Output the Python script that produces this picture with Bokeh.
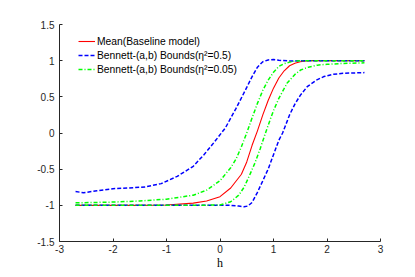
from bokeh.plotting import figure
from bokeh.models import Legend, LegendItem, FixedTicker, Range1d
from bokeh.embed import file_html
from bokeh.resources import INLINE

# ---- data ----
mean_x = [-2.7, -2.0, -1.5, -1.0, -0.5, -0.25, 0.0, 0.2, 0.4, 0.5, 0.6, 0.7, 0.8, 0.9,
          1.0, 1.1, 1.2, 1.3, 1.4, 1.5, 1.6, 1.7, 2.0, 2.7]
mean_y = [-1.0, -1.0, -1.0, -0.995, -0.97, -0.94, -0.88, -0.76, -0.57, -0.40, -0.17, 0.03,
          0.25, 0.45, 0.62, 0.76, 0.86, 0.93, 0.965, 0.985, 0.995, 1.0, 1.0, 1.0]

b05_up_x = [-2.7, -2.55, -2.3, -2.0, -1.7, -1.4, -1.1, -0.8, -0.5, -0.3, -0.1, 0.1, 0.3,
            0.5, 0.6, 0.7, 0.8, 0.9, 1.0, 1.1, 1.3, 1.6, 2.0, 2.7]
b05_up_y = [-0.81, -0.825, -0.80, -0.77, -0.76, -0.745, -0.70, -0.60, -0.46, -0.30, -0.12,
            0.07, 0.34, 0.63, 0.78, 0.91, 0.985, 1.01, 1.015, 1.005, 0.995, 1.0, 1.0, 1.0]

b05_lo_x = [-2.7, -1.5, -0.5, 0.0, 0.2, 0.35, 0.45, 0.52, 0.6, 0.7, 0.9, 1.1, 1.17, 1.3,
            1.4, 1.5, 1.63, 1.8, 1.94, 2.1, 2.3, 2.7]
b05_lo_y = [-1.0, -1.0, -1.0, -1.0, -1.0, -1.01, -1.02, -1.01, -0.96, -0.82, -0.50, -0.10,
            0.0, 0.25, 0.40, 0.52, 0.64, 0.73, 0.78, 0.81, 0.825, 0.835]

b005_up_x = [-2.7, -2.0, -1.5, -1.0, -0.5, -0.25, 0.0, 0.2, 0.3, 0.4, 0.5, 0.6, 0.7, 0.8,
             0.9, 1.0, 1.1, 1.2, 1.3, 1.4, 1.5, 2.0, 2.7]
b005_up_y = [-0.965, -0.955, -0.94, -0.915, -0.86, -0.79, -0.66, -0.48, -0.36, -0.19, 0.0,
             0.21, 0.41, 0.59, 0.73, 0.84, 0.92, 0.96, 0.98, 0.995, 1.0, 1.0, 1.0]

b005_lo_x = [-2.7, -1.5, -0.5, 0.0, 0.2, 0.35, 0.45, 0.55, 0.65, 0.75, 0.85, 0.95, 1.006,
             1.1, 1.255, 1.4, 1.505, 1.65, 1.817, 2.0, 2.3, 2.7]
b005_lo_y = [-1.0, -1.0, -1.0, -0.995, -0.95, -0.86, -0.75, -0.59, -0.42, -0.22, 0.0, 0.21,
             0.32, 0.48, 0.69, 0.81, 0.87, 0.91, 0.938, 0.95, 0.962, 0.97]

x_ticks = [-3, -2, -1, 0, 1, 2, 3]
y_ticks = [-1.5, -1, -0.5, 0, 0.5, 1, 1.5]
labels = ["Mean(Baseline model)",
          "Bennett-(a,b) Bounds(\u03b7\u00b2=0.5)",
          "Bennett-(a,b) Bounds(\u03b7\u00b2=0.05)"]

FONT = "Liberation Sans"
AX = "#262626"

p = figure(width=407, height=272, output_backend="svg", toolbar_location=None,
           x_range=Range1d(-3, 3), y_range=Range1d(-1.5, 1.5),
           min_border_left=59, min_border_right=27, min_border_top=24,
           min_border_bottom=29)
p.outline_line_color = None
p.xgrid.visible = False
p.ygrid.visible = False

r_mean = p.line(mean_x, mean_y, line_color="#ff0000", line_width=1.1)
r_b1 = p.line(b05_up_x, b05_up_y, line_color="#0000ff", line_width=1.5, line_dash="4 2")
p.line(b05_lo_x, b05_lo_y, line_color="#0000ff", line_width=1.5, line_dash="4 2")
r_b2 = p.line(b005_up_x, b005_up_y, line_color="#00ff00", line_width=1.5, line_dash="4 2 1 2")
p.line(b005_lo_x, b005_lo_y, line_color="#00ff00", line_width=1.5, line_dash="4 2 1 2")

for ax in (p.xaxis[0], p.yaxis[0]):
    ax.axis_line_color = AX
    ax.major_tick_line_color = AX
    ax.major_tick_in = 3
    ax.major_tick_out = 0
    ax.minor_tick_line_color = None
    ax.major_label_text_font = FONT
    ax.major_label_text_font_size = "10px"
    ax.major_label_text_color = AX

p.xaxis[0].ticker = FixedTicker(ticks=x_ticks)
p.yaxis[0].ticker = FixedTicker(ticks=y_ticks)
p.xaxis[0].major_label_overrides = {t: str(t) for t in x_ticks}
p.yaxis[0].major_label_overrides = {t: ("%g" % t) for t in y_ticks}
p.xaxis[0].major_label_standoff = 3
p.yaxis[0].major_label_standoff = 5
p.xaxis[0].axis_label = "h"
p.xaxis[0].axis_label_text_font = "Liberation Serif"
p.xaxis[0].axis_label_text_font_style = "normal"
p.xaxis[0].axis_label_text_font_size = "12px"
p.xaxis[0].axis_label_text_color = "#000000"
p.xaxis[0].axis_label_standoff = 0

legend = Legend(items=[LegendItem(label=labels[0], renderers=[r_mean]),
                       LegendItem(label=labels[1], renderers=[r_b1]),
                       LegendItem(label=labels[2], renderers=[r_b2])],
                location=(19, 165), padding=0, margin=0, spacing=0,
                glyph_width=17, glyph_height=14, label_height=14, label_standoff=2,
                label_text_font=FONT, label_text_font_size="10.3px",
                label_text_color="#000000",
                border_line_alpha=0, background_fill_alpha=0)
p.add_layout(legend)

open("out.html", "w").write(file_html(p, INLINE))
